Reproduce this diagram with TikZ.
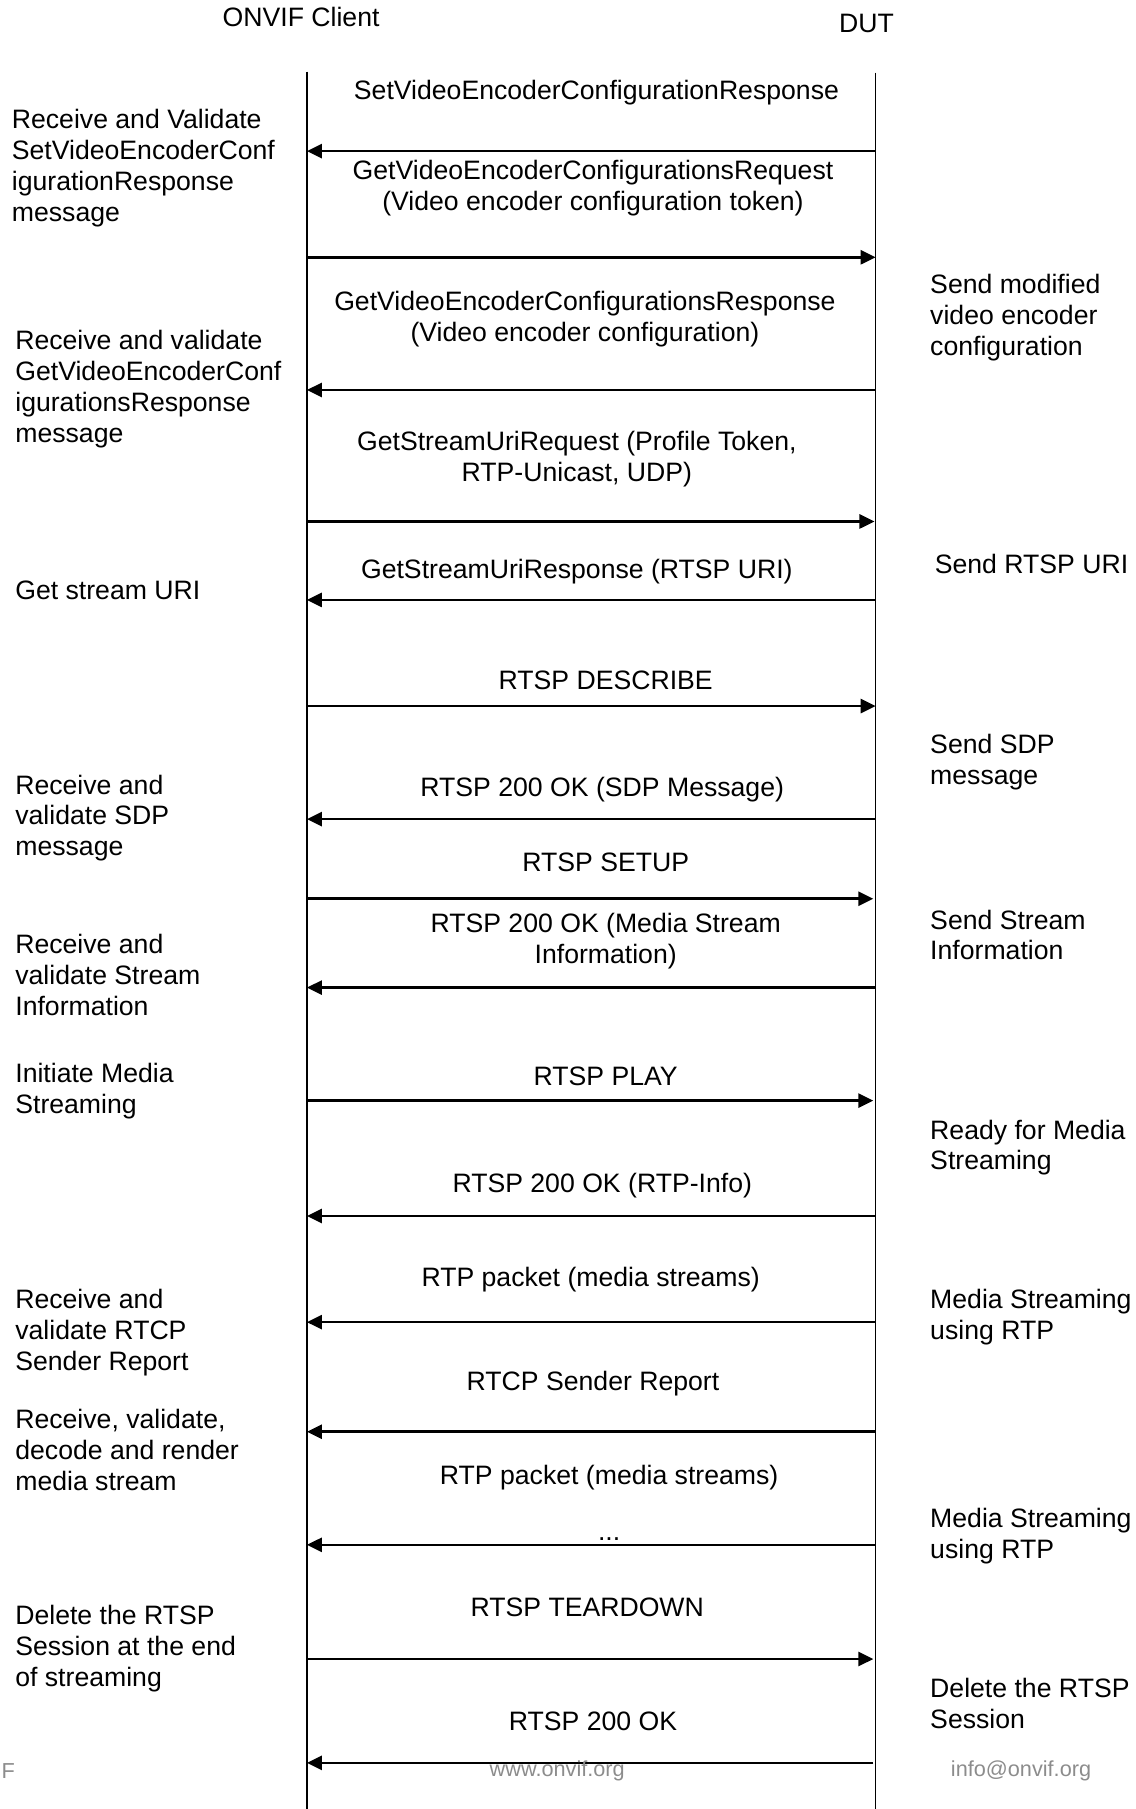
\documentclass[tikz,border=0pt]{standalone}
\usepackage{fontspec}
\setmainfont{Liberation Sans}
\usetikzlibrary{arrows.meta}

\begin{document}
\begin{tikzpicture}[
  x=0.023cm, y=-0.023cm,
  head/.style={font=\fontsize{15.1}{17.5}\selectfont, inner sep=0pt},
  msg/.style={font=\fontsize{15.1}{17.5}\selectfont, align=center,
              inner sep=0pt, anchor=north, yshift=0.2cm},
  note/.style={font=\fontsize{15.1}{17.5}\selectfont, align=left,
               inner sep=0pt, anchor=north west, yshift=0.2cm},
  foot/.style={font=\fontsize{12.3}{14}\selectfont, text=black!45, inner sep=0pt},
  life/.style={line width=0.9pt},
  arr/.style={line width=1.5pt, -{Triangle[length=0.3cm, width=0.28cm]}}
]
\useasboundingbox (0,0) rectangle (984,1568);

%% Participants and lifelines
\node[head] (client) at (261,15) {ONVIF Client};
\node[head] (dut)    at (751,20) {DUT};
\coordinate (client-top) at (266,62);  \coordinate (client-bot) at (266,1568);
\coordinate (dut-top)    at (759,63);  \coordinate (dut-bot)    at (759,1568);
\draw[life] (client-top) -- (client-bot);
\draw[life] (dut-top) -- (dut-bot);

%% Message end points on the lifelines
\path (266,131)  coordinate (c1)  (759,131)  coordinate (d1);
\path (266,223)  coordinate (c2)  (759,223)  coordinate (d2);
\path (266,338)  coordinate (c3)  (758,338)  coordinate (d3);
\path (266,452)  coordinate (c4)  (758,452)  coordinate (d4);
\path (266,520)  coordinate (c5)  (758,520)  coordinate (d5);
\path (266,612)  coordinate (c6)  (759,612)  coordinate (d6);
\path (266,710)  coordinate (c7)  (758,710)  coordinate (d7);
\path (266,779)  coordinate (c8)  (757,779)  coordinate (d8);
\path (266,856)  coordinate (c9)  (758,856)  coordinate (d9);
\path (266,954)  coordinate (c10) (757,954)  coordinate (d10);
\path (266,1054) coordinate (c11) (758,1054) coordinate (d11);
\path (266,1146) coordinate (c12) (758,1146) coordinate (d12);
\path (266,1241) coordinate (c13) (758,1241) coordinate (d13);
\path (266,1339) coordinate (c14) (758,1339) coordinate (d14);
\path (266,1438) coordinate (c15) (757,1438) coordinate (d15);
\path (266,1528) coordinate (c16) (757,1528) coordinate (d16);

%% Messages
\node[msg] (m1)  at (517,78)   {SetVideoEncoderConfigurationResponse};
\node[msg] (m2)  at (514,147)  {GetVideoEncoderConfigurationsRequest\\(Video encoder configuration token)};
\node[msg] (m3)  at (507,261)  {GetVideoEncoderConfigurationsResponse\\(Video encoder configuration)};
\node[msg] (m4)  at (500,382)  {GetStreamUriRequest (Profile Token,\\RTP-Unicast, UDP)};
\node[msg] (m5)  at (500,493)  {GetStreamUriResponse (RTSP URI)};
\node[msg] (m6)  at (525,590)  {RTSP DESCRIBE};
\node[msg] (m7)  at (522,682)  {RTSP 200 OK (SDP Message)};
\node[msg] (m8)  at (525,748)  {RTSP SETUP};
\node[msg] (m9)  at (525,800)  {RTSP 200 OK (Media Stream\\Information)};
\node[msg] (m10) at (525,933)  {RTSP PLAY};
\node[msg] (m11) at (522,1025) {RTSP 200 OK (RTP-Info)};
\node[msg] (m12) at (512,1107) {RTP packet (media streams)};
\node[msg] (m13) at (514,1197) {RTCP Sender Report};
\node[msg] (m14) at (528,1278) {RTP packet (media streams)};
\node[head, anchor=base] (dots) at (528,1335) {...};
\node[msg] (m15) at (509,1393) {RTSP TEARDOWN};
\node[msg] (m16) at (514,1492) {RTSP 200 OK};

\draw[arr] (d1)  -- (c1);
\draw[arr] (c2)  -- (d2);
\draw[arr] (d3)  -- (c3);
\draw[arr] (c4)  -- (d4);
\draw[arr] (d5)  -- (c5);
\draw[arr] (c6)  -- (d6);
\draw[arr] (d7)  -- (c7);
\draw[arr] (c8)  -- (d8);
\draw[arr] (d9)  -- (c9);
\draw[arr] (c10) -- (d10);
\draw[arr] (d11) -- (c11);
\draw[arr] (d12) -- (c12);
\draw[arr] (d13) -- (c13);
\draw[arr] (d14) -- (c14);
\draw[arr] (c15) -- (d15);
\draw[arr] (d16) -- (c16);

%% Client side notes
\node[note] (n1) at (10,103)  {Receive and Validate\\SetVideoEncoderConf\\igurationResponse\\message};
\node[note] (n2) at (13,295)  {Receive and validate\\GetVideoEncoderConf\\igurationsResponse\\message};
\node[note] (n3) at (13,512)  {Get stream URI};
\node[note] (n4) at (13,680)  {Receive and\\validate SDP\\message};
\node[note] (n5) at (13,818)  {Receive and\\validate Stream\\Information};
\node[note] (n6) at (13,930)  {Initiate Media\\Streaming};
\node[note] (n7) at (13,1126) {Receive and\\validate RTCP\\Sender Report};
\node[note] (n8) at (13,1230) {Receive, validate,\\decode and render\\media stream};
\node[note] (n9) at (13,1400) {Delete the RTSP\\Session at the end\\of streaming};

%% DUT side notes
\node[note] (r1) at (806,246)  {Send modified\\video encoder\\configuration};
\node[note] (r2) at (810,489)  {Send RTSP URI};
\node[note] (r3) at (806,645)  {Send SDP\\message};
\node[note] (r4) at (806,797)  {Send Stream\\Information};
\node[note] (r5) at (806,979)  {Ready for Media\\Streaming};
\node[note] (r6) at (806,1126) {Media Streaming\\using RTP};
\node[note] (r7) at (806,1316) {Media Streaming\\using RTP};
\node[note] (r8) at (806,1463) {Delete the RTSP\\Session};

%% Page footer
\node[foot, anchor=west] (f1) at (1,1535)   {F};
\node[foot] (f2) at (483,1535) {www.onvif.org};
\node[foot] (f3) at (885,1535) {info@onvif.org};
\end{tikzpicture}
\end{document}
